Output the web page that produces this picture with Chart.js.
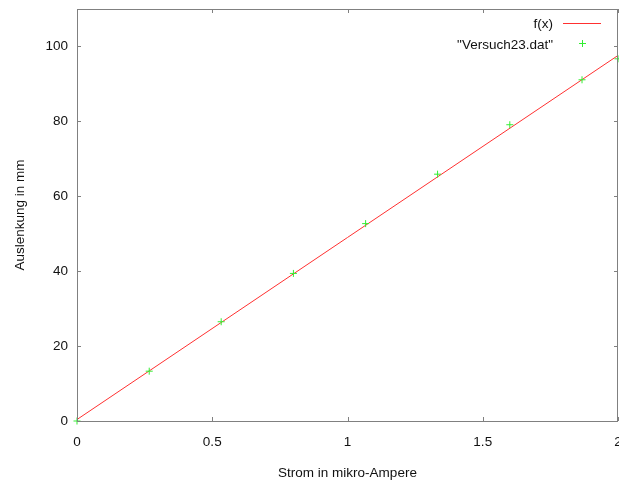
<!DOCTYPE html>
<html>
<head>
<meta charset="utf-8">
<script src="https://cdn.jsdelivr.net/npm/chart.js@4.4.1/dist/chart.umd.min.js"></script>
<style>
  html, body { margin: 0; padding: 0; background: #fff; }
  #wrap { width: 619px; height: 486px; }
</style>
</head>
<body>
<div id="wrap"><canvas id="grafik" width="619" height="486"></canvas></div>
<script>
const stromWerte = [0, 0.267, 0.533, 0.8, 1.067, 1.333, 1.6, 1.867, 2.0];
const auslenkung = [0, 13.3, 26.5, 39.4, 52.7, 65.9, 79.1, 91.1, 96.7];

// Ausgleichsgerade f(x), Endpunkte
const fitX = [0, 2];
const fitY = [0.4, 97.6];

// Achsenbeschriftung
const xTickWerte = [0, 0.5, 1, 1.5, 2];
const yTickWerte = [0, 20, 40, 60, 80, 100];

const punkte = stromWerte.map((x, i) => ({ x, y: auslenkung[i] }));
const gerade = fitX.map((x, i) => ({ x, y: fitY[i] }));

Chart.defaults.font.family = "'Liberation Sans', Arial, sans-serif";
Chart.defaults.font.size = 13.5;
Chart.defaults.color = '#111';

// Rahmen + Ticks nach innen (gnuplot-Stil), auch gespiegelt
const rahmenPlugin = {
    id: 'rahmen',
    afterDatasetsDraw(chart) {
        const { ctx, chartArea: a, scales } = chart;
        const len = 4;
        ctx.save();
        ctx.strokeStyle = '#808080';
        ctx.lineWidth = 1;
        ctx.strokeRect(a.left + 0.5, a.top + 0.5, a.right - a.left - 1, a.bottom - a.top);
        ctx.beginPath();
        xTickWerte.forEach(v => {
            const px = Math.round(scales.x.getPixelForValue(v)) + 0.5;
            ctx.moveTo(px, a.bottom); ctx.lineTo(px, a.bottom - len);
            ctx.moveTo(px, a.top); ctx.lineTo(px, a.top + len);
        });
        yTickWerte.forEach(v => {
            const py = Math.round(scales.y.getPixelForValue(v)) + 0.5;
            ctx.moveTo(a.left, py); ctx.lineTo(a.left + len, py);
            ctx.moveTo(a.right, py); ctx.lineTo(a.right - len, py);
        });
        ctx.stroke();
        ctx.restore();
    }
};

// Legende rechts oben wie bei gnuplot
const legendePlugin = {
    id: 'legende',
    afterDraw(chart) {
        const { ctx } = chart;
        const ds = chart.data.datasets;
        ctx.save();
        ctx.font = "13.5px 'Liberation Sans', Arial, sans-serif";
        ctx.fillStyle = '#111';
        ctx.textAlign = 'right';
        ctx.textBaseline = 'middle';
        // f(x)
        ctx.fillText(ds[0].label, 553, 24);
        ctx.strokeStyle = ds[0].borderColor;
        ctx.lineWidth = 1;
        ctx.beginPath();
        ctx.moveTo(563, 23.5); ctx.lineTo(601, 23.5);
        ctx.stroke();
        // Messpunkte
        ctx.fillText(ds[1].label, 553, 45);
        ctx.strokeStyle = ds[1].borderColor;
        ctx.beginPath();
        ctx.moveTo(579, 43.5); ctx.lineTo(586, 43.5);
        ctx.moveTo(582.5, 40); ctx.lineTo(582.5, 47);
        ctx.stroke();
        ctx.restore();
    }
};

new Chart(document.getElementById('grafik'), {
    type: 'scatter',
    data: {
        datasets: [
            { label: 'f(x)', data: gerade, showLine: true, borderColor: '#ff3030', borderWidth: 1,
              pointRadius: 0, fill: false, order: 2 },
            { label: '"Versuch23.dat"', data: punkte, showLine: false, pointStyle: 'cross',
              pointRadius: 3.5, borderColor: '#33ee33', backgroundColor: '#33ee33', borderWidth: 1,
              clip: false, order: 1 }
        ]
    },
    options: {
        responsive: false,
        animation: false,
        layout: { autoPadding: false, padding: { top: 9, right: 1, left: 0, bottom: 0 } },
        plugins: { legend: { display: false }, tooltip: { enabled: false } },
        scales: {
            x: {
                type: 'linear', min: 0, max: 2,
                grid: { display: false, drawTicks: false },
                border: { display: false },
                ticks: { padding: 13, maxRotation: 0, autoSkip: false,
                         callback: v => String(v) },
                afterBuildTicks: s => { s.ticks = xTickWerte.map(v => ({ value: v })); },
                afterFit: s => { s.height = 65; s.paddingLeft = 0; s.paddingRight = 0; },
                title: { display: true, text: 'Strom in mikro-Ampere', padding: { top: 0, bottom: 5 } }
            },
            y: {
                type: 'linear', min: 0, max: 110,
                grid: { display: false, drawTicks: false },
                border: { display: false },
                ticks: { padding: 9, autoSkip: false },
                afterBuildTicks: s => { s.ticks = yTickWerte.map(v => ({ value: v })); },
                afterFit: s => { s.width = 77; s.paddingTop = 0; s.paddingBottom = 0; },
                title: { display: true, text: 'Auslenkung in mm', padding: { top: 12, bottom: 0 } }
            }
        }
    },
    plugins: [rahmenPlugin, legendePlugin]
});
</script>
</body>
</html>
